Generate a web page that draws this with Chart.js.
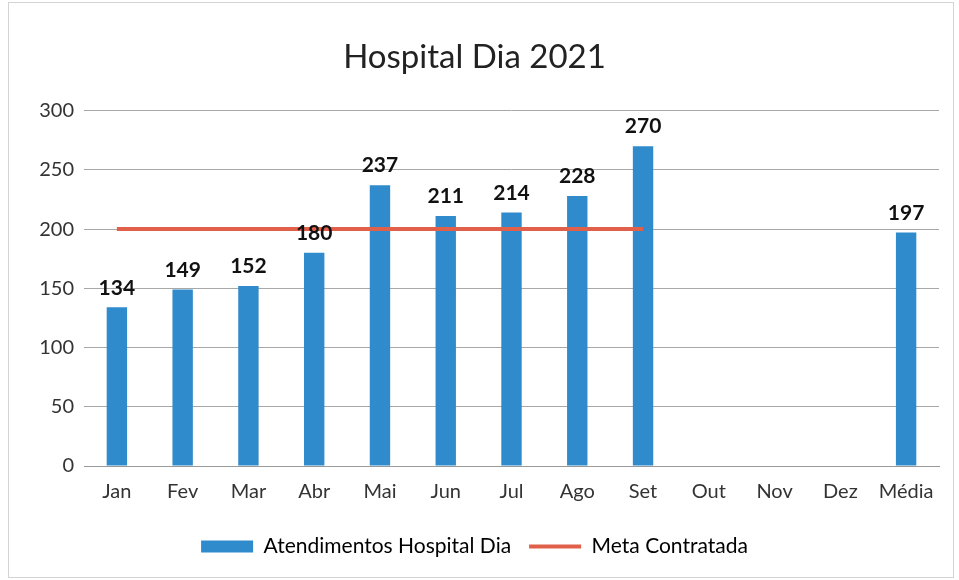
<!DOCTYPE html>
<html>
<head>
<meta charset="utf-8">
<title>Hospital Dia 2021</title>
<script src="https://cdn.jsdelivr.net/npm/chart.js"></script>
<style>
  html, body { margin: 0; padding: 0; background: #fff; overflow: hidden; }
  .wrap { position: relative; width: 959px; height: 580px; }
  .frame { position: absolute; left: 8px; top: 2px; width: 944px; height: 574px; border: 1px solid #d4d4d4; pointer-events: none; }
</style>
</head>
<body>
<div class="wrap">
  <canvas id="chart" width="959" height="580"></canvas>
  <div class="frame"></div>
</div>
<script>
const categories = ['Jan', 'Fev', 'Mar', 'Abr', 'Mai', 'Jun', 'Jul', 'Ago', 'Set', 'Out', 'Nov', 'Dez', 'Média'];
const atendimentos = [134, 149, 152, 180, 237, 211, 214, 228, 270, null, null, null, 197];
const meta = [200, 200, 200, 200, 200, 200, 200, 200, 200, null, null, null, null];
const yTicks = [0, 50, 100, 150, 200, 250, 300];

const barColor = '#2f8bcc';
const lineColor = '#e0604a';
const fontFamily = 'Lato, "Open Sans", sans-serif';

// values above the bars
const barLabels = {
  id: 'barLabels',
  afterDatasetsDraw(chart) {
    const ctx = chart.ctx;
    const meta0 = chart.getDatasetMeta(0);
    ctx.save();
    ctx.font = 'bold 21px ' + fontFamily;
    ctx.fillStyle = '#111';
    ctx.textAlign = 'center';
    ctx.textBaseline = 'bottom';
    meta0.data.forEach((el, i) => {
      const v = atendimentos[i];
      if (v == null) return;
      ctx.fillText(String(v), el.x, el.y - 9);
    });
    ctx.restore();
  }
};

new Chart(document.getElementById('chart'), {
  type: 'bar',
  data: {
    labels: categories,
    datasets: [
      {
        label: 'Atendimentos Hospital Dia',
        data: atendimentos,
        backgroundColor: barColor,
        barPercentage: 0.62,
        categoryPercentage: 0.5,
        order: 2
      },
      {
        type: 'line',
        label: 'Meta Contratada',
        data: meta,
        borderColor: lineColor,
        backgroundColor: lineColor,
        borderWidth: 4,
        pointRadius: 0,
        spanGaps: false,
        order: 1
      }
    ]
  },
  options: {
    responsive: false,
    animation: false,
    layout: { padding: { left: 10, right: 20, top: 8, bottom: 13 } },
    plugins: {
      title: {
        display: true,
        text: 'Hospital Dia 2021',
        color: '#222',
        font: { family: fontFamily, size: 33, weight: 'normal' },
        padding: { top: 30, bottom: 33 }
      },
      legend: {
        position: 'bottom',
        labels: {
          color: '#333',
          font: { family: fontFamily, size: 21 },
          usePointStyle: true,
          pointStyleWidth: 52,
          boxHeight: 12,
          padding: 18,
          generateLabels(chart) {
            return chart.data.datasets.map((ds, i) => ({
              text: ds.label,
              fillStyle: i === 0 ? barColor : lineColor,
              strokeStyle: i === 0 ? barColor : lineColor,
              lineWidth: i === 0 ? 0 : 4,
              pointStyle: i === 0 ? 'rect' : 'line',
              datasetIndex: i,
              hidden: false
            }));
          }
        }
      },
      tooltip: { enabled: false }
    },
    scales: {
      x: {
        grid: { display: false, drawTicks: false },
        border: { display: true, color: '#9a9a9a', width: 1 },
        ticks: { color: '#333', font: { family: fontFamily, size: 20 }, padding: 14, maxRotation: 0, minRotation: 0, autoSkip: false }
      },
      y: {
        min: 0,
        max: 300,
        afterBuildTicks(scale) { scale.ticks = yTicks.map(v => ({ value: v })); },
        afterFit(scale) { scale.width = 74; },
        grid: { color: '#a8a8a8', lineWidth: 1, drawTicks: false },
        border: { display: false },
        ticks: { color: '#333', font: { family: fontFamily, size: 20 }, padding: 10 }
      }
    }
  },
  plugins: [barLabels]
});
</script>
</body>
</html>
